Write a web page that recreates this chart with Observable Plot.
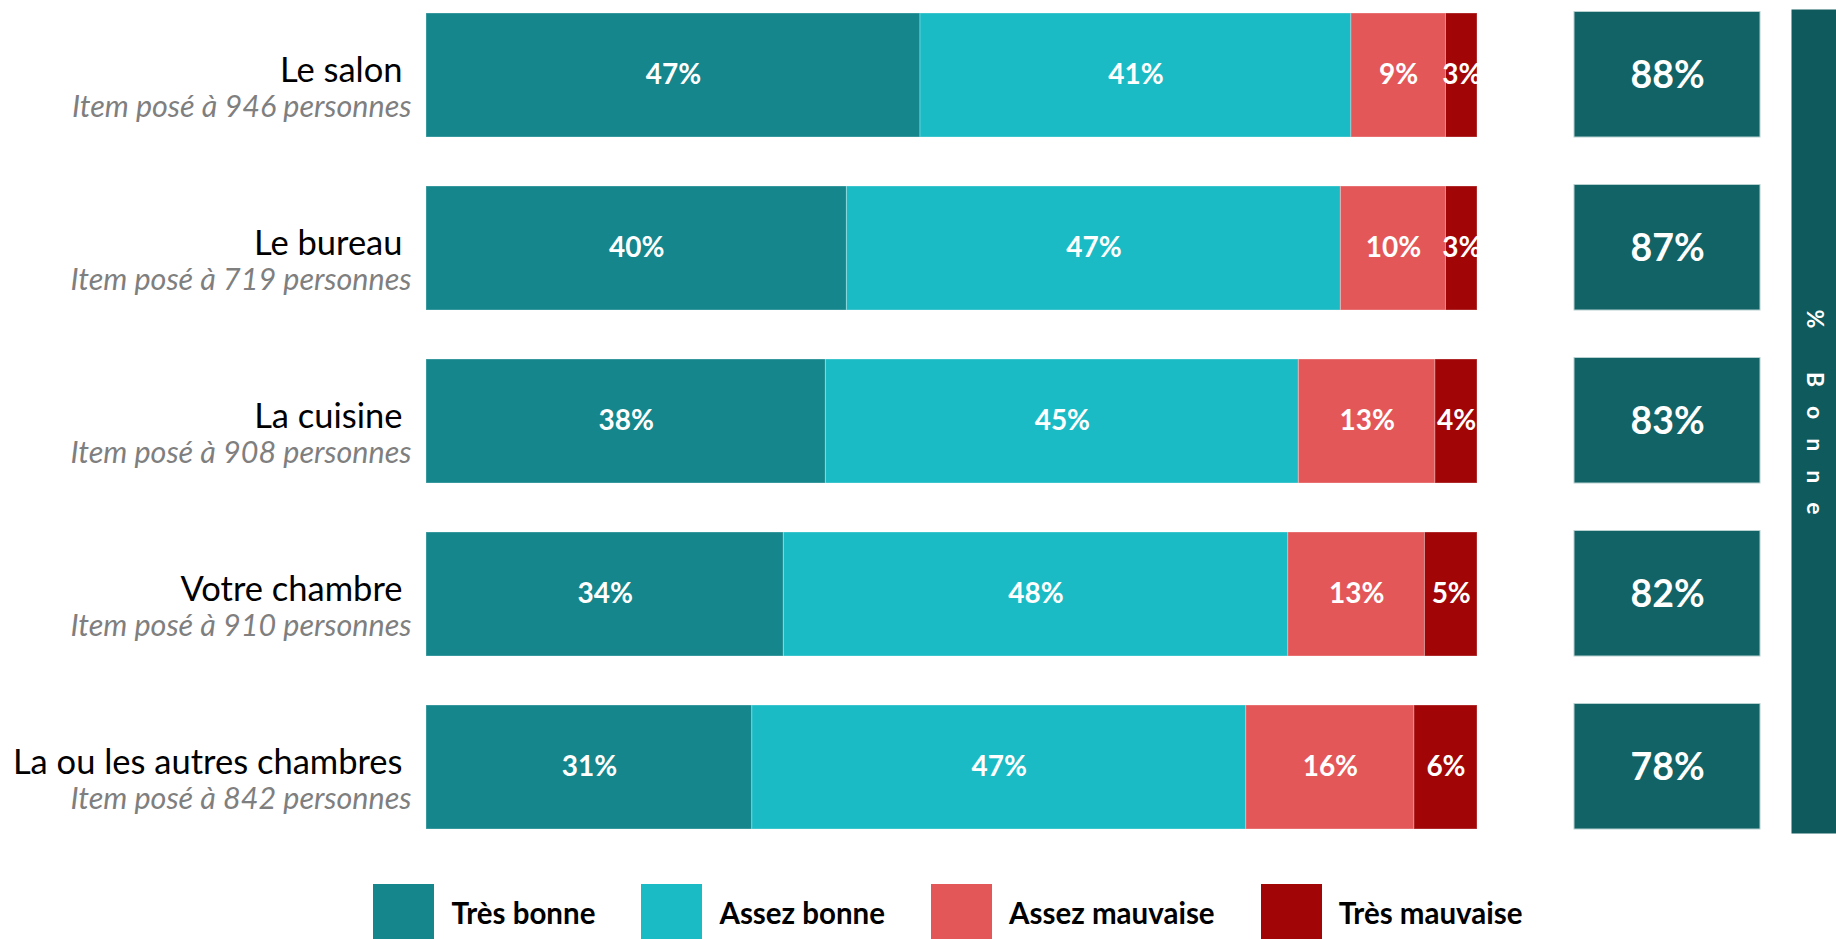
<!DOCTYPE html>
<html><head><meta charset="utf-8">
<script src="https://cdn.jsdelivr.net/npm/d3@7"></script>
<script src="https://cdn.jsdelivr.net/npm/@observablehq/plot@0.6"></script>
<style>
body{margin:0;background:#fff;font-family:Lato,sans-serif;}
#chart{position:relative;width:1836px;height:939px;overflow:hidden;}
#chart > .pos{position:absolute;top:0;}
#legend{position:absolute;top:884px;left:0;width:1836px;display:flex;justify-content:center;padding-left:60px;box-sizing:border-box;}
#legend .item{display:flex;align-items:flex-start;margin:0 23px;}
#legend .sw{width:61px;height:60px;}
#legend .lb{font:700 29.5px Lato,sans-serif;color:#000;margin-left:17px;margin-top:11px;line-height:36px;}
</style></head><body><div id="chart"></div>
<script>
const categories = ["Le salon","Le bureau","La cuisine","Votre chambre","La ou les autres chambres"];
const respondents = [946,719,908,910,842];
const levels = ["Très bonne","Assez bonne","Assez mauvaise","Très mauvaise"];
const levelColors = ["#14868c","#1abbc5","#e45759","#a10505"];
const tresBonne = [47,40,38,34,31];
const assezBonne = [41,47,45,48,47];
const assezMauvaise = [9,10,13,13,16];
const tresMauvaise = [3,3,4,5,6];
const bonneTotal = [88,87,83,82,78];
const sideTitle = "% Bonne";
const boxColor = "#126366";
const sideColor = "#0e5a5c";

const series = [tresBonne, assezBonne, assezMauvaise, tresMauvaise];
const rows = [];
levels.forEach((lv, j) => categories.forEach((c, i) => rows.push({cat: c, level: lv, value: series[j][i]})));
const totals = categories.map((c, i) => ({cat: c, n: respondents[i], bonne: bonneTotal[i]}));

const H = 870;
const yScale = {domain: categories, range: [12, 829], paddingInner: 0.284, paddingOuter: 0, axis: null};
const chart = document.getElementById("chart");

const main = Plot.plot({
  width: 1480, height: H, marginLeft: 426, marginRight: 3, marginTop: 0, marginBottom: 0,
  style: {fontFamily: "Lato, sans-serif", background: "transparent"},
  x: {domain: [0, 100], axis: null},
  y: yScale,
  color: {domain: levels, range: levelColors},
  marks: [
    Plot.barX(rows, {x: "value", y: "cat", fill: "level", stroke: "#ffffff", strokeOpacity: 0.3, strokeWidth: 1}),
    Plot.text(rows, Plot.stackX({x: "value", y: "cat", z: "level", text: d => d.value + "%", fill: "white", fontWeight: "bold", fontSize: 28})),
    Plot.text(totals, {y: "cat", frameAnchor: "left", text: d => d.cat, textAnchor: "end", dx: -24, dy: -5, fontSize: 34.5, fill: "#000"}),
    Plot.text(totals, {y: "cat", frameAnchor: "left", text: d => `Item posé à ${d.n} personnes`, textAnchor: "end", dx: -15, dy: 32, fontSize: 30.5, fontStyle: "italic", fill: "#7f7f7f"})
  ]
});
main.classList.add("pos"); main.style.left = "0px";
chart.appendChild(main);

const boxes = Plot.plot({
  width: 188, height: H, marginLeft: 1, marginRight: 1, marginTop: 0, marginBottom: 0,
  style: {fontFamily: "Lato, sans-serif", background: "transparent"},
  x: {domain: ["Bonne"], padding: 0, axis: null},
  y: yScale,
  marks: [
    Plot.cell(totals, {x: () => "Bonne", y: "cat", fill: boxColor, stroke: "#b7d0d0", strokeWidth: 1, inset: 0, insetTop: -1.5}),
    Plot.text(totals, {x: () => "Bonne", y: "cat", text: d => d.bonne + "%", fill: "white", fontWeight: "bold", fontSize: 37.5})
  ]
});
boxes.classList.add("pos"); boxes.style.left = "1573px";
chart.appendChild(boxes);

const side = Plot.plot({
  width: 45, height: H, margin: 0, marginTop: 9, marginBottom: H - 833,
  style: {fontFamily: "Lato, sans-serif", background: "transparent", letterSpacing: "19px"},
  x: {axis: null}, y: {axis: null},
  marks: [
    Plot.frame({fill: sideColor, stroke: null}),
    Plot.text([sideTitle], {frameAnchor: "middle", text: d => d, rotate: 90, fill: "white", fontWeight: "bold", fontSize: 23})
  ]
});
side.classList.add("pos"); side.style.left = "1791px";
chart.appendChild(side);

const legend = document.createElement("div");
legend.id = "legend";
levels.forEach((lv, j) => {
  const it = document.createElement("div"); it.className = "item";
  const sw = document.createElement("div"); sw.className = "sw"; sw.style.background = levelColors[j];
  const lb = document.createElement("div"); lb.className = "lb"; lb.textContent = lv;
  it.appendChild(sw); it.appendChild(lb); legend.appendChild(it);
});
chart.appendChild(legend);
</script></body></html>
